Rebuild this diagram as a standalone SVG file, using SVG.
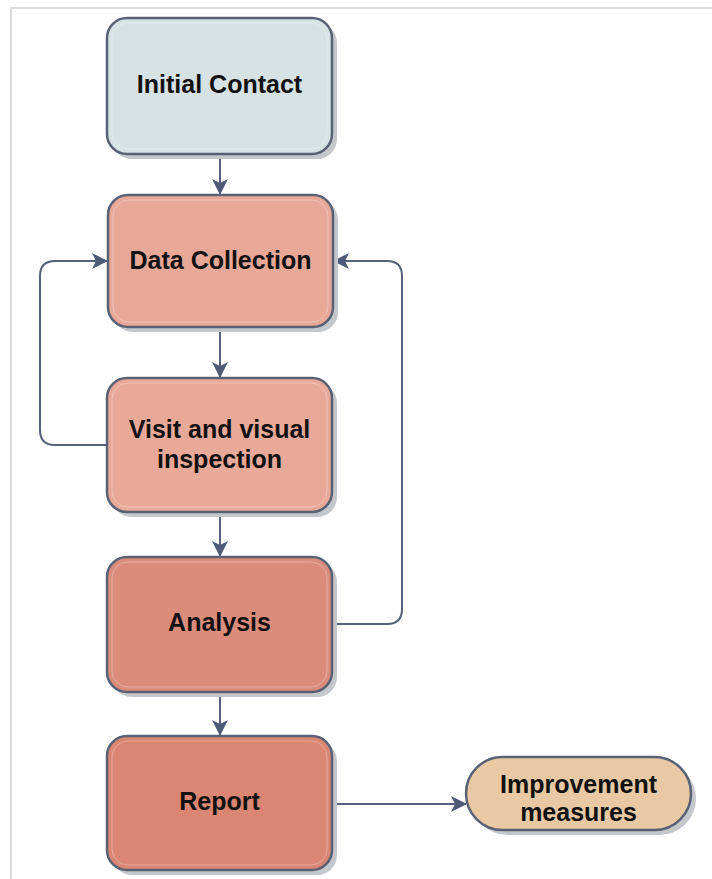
<svg xmlns="http://www.w3.org/2000/svg" width="712" height="879" viewBox="0 0 712 879">
<defs>
<marker id="ah" markerWidth="16" markerHeight="16" refX="15" refY="8" orient="auto" markerUnits="userSpaceOnUse">
<path d="M0,0 L16,8 L0,16 L4,8 Z" fill="#4f5a78"/>
</marker>
</defs>
<style>
.box{stroke:#596174;stroke-width:2.5}
.sh{fill:#c4c7cc}
.inner{fill:none;stroke:#ffffff;stroke-opacity:0.3;stroke-width:1}
.lbl{font-family:"Liberation Sans",Arial,sans-serif;font-weight:bold;font-size:25px;fill:#111;text-anchor:middle}
.conn{fill:none;stroke:#56607a;stroke-width:2}
</style>
<rect width="712" height="879" fill="#ffffff"/>
<path d="M11,879 V8 H712" fill="none" stroke="#dcdcdc" stroke-width="2"/>
<g id="connectors">
<path class="conn" d="M220,155 V194" marker-end="url(#ah)"/>
<path class="conn" d="M220,328 V377" marker-end="url(#ah)"/>
<path class="conn" d="M220,513 V556" marker-end="url(#ah)"/>
<path class="conn" d="M220,693 V735" marker-end="url(#ah)"/>
<path class="conn" d="M107,445 H55 Q40,445 40,430 V276 Q40,261 55,261 H107" marker-end="url(#ah)"/>
<path class="conn" d="M333,624 H387 Q402,624 402,609 V276 Q402,261 387,261 H334" marker-end="url(#ah)"/>
<path class="conn" d="M333,804 H466" marker-end="url(#ah)"/>
</g>
<g id="initial-contact">
<rect class="sh" x="112" y="23" width="225" height="136" rx="20"/>
<rect class="box" x="107" y="18" width="225" height="136" rx="20" fill="#d6e2e3"/>
<rect class="inner" x="112" y="23" width="215" height="126" rx="16"/>
<text class="lbl" x="219.5" y="93">Initial Contact</text>
</g>
<g id="data-collection">
<rect class="sh" x="113" y="200" width="225" height="132" rx="20"/>
<rect class="box" x="108" y="195" width="225" height="132" rx="20" fill="#e8a898"/>
<rect class="inner" x="113" y="200" width="215" height="122" rx="16"/>
<text class="lbl" x="220.5" y="269">Data Collection</text>
</g>
<g id="visit">
<rect class="sh" x="112" y="383" width="225" height="134" rx="20"/>
<rect class="box" x="107" y="378" width="225" height="134" rx="20" fill="#e9a998"/>
<rect class="inner" x="112" y="383" width="215" height="124" rx="16"/>
<text class="lbl" x="219.5" y="438">Visit and visual</text>
<text class="lbl" x="219.5" y="468">inspection</text>
</g>
<g id="analysis">
<rect class="sh" x="112" y="562" width="225" height="135" rx="20"/>
<rect class="box" x="107" y="557" width="225" height="135" rx="20" fill="#dc8c7a"/>
<rect class="inner" x="112" y="562" width="215" height="125" rx="16"/>
<text class="lbl" x="219.5" y="631">Analysis</text>
</g>
<g id="report">
<rect class="sh" x="112" y="741" width="225" height="134" rx="20"/>
<rect class="box" x="107" y="736" width="225" height="134" rx="20" fill="#da8672"/>
<rect class="inner" x="112" y="741" width="215" height="124" rx="16"/>
<text class="lbl" x="219.5" y="810">Report</text>
</g>
<g id="improvement">
<rect class="sh" x="471" y="762" width="225" height="73" rx="36.5"/>
<rect class="box" x="466" y="757" width="225" height="73" rx="36.5" fill="#e8c9a4"/>
<text class="lbl" x="578.5" y="793">Improvement</text>
<text class="lbl" x="578.5" y="821">measures</text>
</g>
</svg>
